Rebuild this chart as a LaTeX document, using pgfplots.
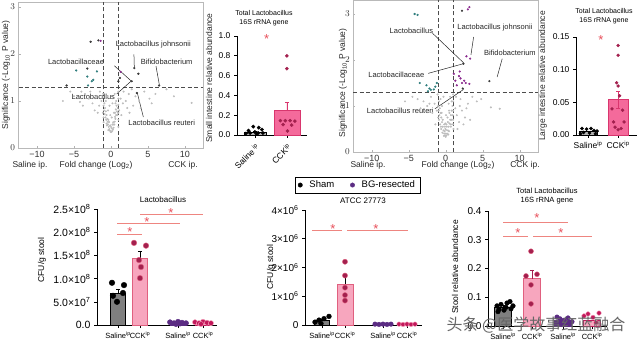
\documentclass[border=0pt]{standalone}
\usepackage{fontspec}
\setmainfont{Liberation Sans}
\newfontfamily\cjk{Noto Sans CJK SC}
\usepackage{pgfplots}
\pgfplotsset{compat=1.18}
\definecolor{vgray}{HTML}{BDBDBD}
\definecolor{vdark}{HTML}{3A3A3A}
\definecolor{vteal}{HTML}{2E7D7D}
\definecolor{vpurp}{HTML}{8A2A8E}
\definecolor{hotpink}{HTML}{F46A9B}
\definecolor{hotpinkD}{HTML}{D9366E}
\definecolor{lpink}{HTML}{F7A6BE}
\definecolor{lpinkD}{HTML}{E0607F}
\definecolor{dmag}{HTML}{A3204E}
\definecolor{dpurp}{HTML}{5B2C83}
\definecolor{mag}{HTML}{C2185B}
\definecolor{sigred}{HTML}{E8505B}
\definecolor{sigline}{HTML}{EE8580}
\definecolor{shamgray}{HTML}{7F7F7F}
\pgfplotsset{
  volc/.style={scale only axis, anchor=south west, xmin=-12.5, xmax=12.5, ymin=0,
    axis line style={gray!55, line width=0.4pt}, xtick={-10,-5,0,5,10},
    xticklabels={−10,−5,0,5,10}, ytick={0,1,2,3}, tick style={gray!60},
    major tick length=2pt, tick align=inside, xtick pos=bottom, ytick pos=left,
    ticklabel style={font=\fontsize{9}{10}\selectfont, text=black!80}, clip=false},
  barax/.style={scale only axis, anchor=south west, axis lines*=left,
    axis line style={black, line width=0.6pt}, tick align=outside, major tick length=3pt,
    tick style={black, line width=0.6pt}, clip=false},
}
\tikzset{sig/.style={sigline, line width=0.8pt},
  star/.style={text=sigred, font=\fontsize{13}{13}\selectfont, inner sep=0pt, yshift=-3pt},
  dashref/.style={black!70, dash pattern=on 4pt off 2.5pt, line width=0.6pt},
  ann/.style={font=\fontsize{7.5}{8}\selectfont, text=black!85},
  annl/.style={black!85, line width=0.5pt}}
\begin{document}
\begin{tikzpicture}[x=1pt,y=1pt]
\useasboundingbox (0,0) rectangle (640,343);
% ---------------- Volcano 1 ----------------
\begin{axis}[volc, at={(18.5pt,195pt)}, width=185pt, height=145.7pt, ymax=3.1]
\draw[dashref] (axis cs:-1,0) -- (axis cs:-1,3.1);
\draw[dashref] (axis cs:1,0) -- (axis cs:1,3.1);
\draw[dashref] (axis cs:-12.5,1.3) -- (axis cs:12.5,1.3);
\addplot[only marks, mark=*, mark size=0.8pt, color=vgray] coordinates {
(-0.9,0.95)(-0.8,0.85)(-0.7,0.78)(-0.6,0.7)(-0.5,0.62)(-0.45,0.56)(-0.4,0.5)(-0.3,0.45)
(-0.25,0.4)(-0.15,0.37)(-0.05,0.34)(0.05,0.34)(0.15,0.36)(0.25,0.39)(0.35,0.43)(0.45,0.5)
(0.5,0.56)(0.6,0.62)(0.7,0.7)(0.8,0.78)(0.9,0.85)(1.0,0.92)(-0.6,0.52)(-0.35,0.6)(0.3,0.55)
(0.55,0.75)(-0.75,0.65)(0.85,0.7)(-1.1,0.75)(1.1,0.8)(-1.3,1.0)(1.3,1.05)(-1.6,0.9)(1.6,0.95)
(-2.0,1.1)(2.0,1.0)(-2.5,0.95)(2.4,1.15)(-3.0,1.05)(3.0,0.9)(-3.5,1.15)(3.8,1.0)(-4.2,0.98)
(4.5,1.2)(-5.0,1.1)(5.2,1.05)(-6.5,1.0)(7.5,1.25)(-1.5,1.2)(1.7,1.2)(-0.5,1.1)(0.5,1.15)
(-0.2,0.9)(0.2,0.95)(-1.0,0.55)(1.0,0.6)(10.9,0.96)(-2.2,0.8)(2.5,0.75)(-0.1,0.7)(0.1,0.65)
(6.0,1.15)(-4.0,1.2)(2.8,1.25)(1.0,1.05)(1.0,0.45)(-1.0,1.15)(0.7,1.0)
(-0.65,0.6)(-0.55,0.48)(-0.35,0.38)(0.35,0.5)(0.55,0.66)(0.65,0.82)(-0.85,0.72)(0.75,0.9)
(-0.95,0.8)(0.95,0.75)(-0.4,0.8)(0.4,0.75)(-0.7,1.0)(0.6,0.95)(-0.25,0.55)(0.2,0.5)
(1.0,0.75)(1.0,1.2)(-1.0,0.9)(-1.0,0.65)(1.4,0.7)(-1.8,0.75)(2.2,0.85)(3.3,1.1)(-2.8,1.2)
(4.0,0.85)(-3.8,0.9)(5.5,0.95)(-5.5,1.2)(8.5,1.1)(0.0,0.45)(0.1,0.42)(-0.1,0.48)};
\addplot[only marks, mark=*, mark size=0.9pt, color=vteal] coordinates {
(-4.7,1.65)(-3.2,1.52)(-2.4,1.45)(-2.6,1.42)(-3.1,1.33)(-1.9,1.63)};
\addplot[only marks, mark=*, mark size=0.9pt, color=vdark] coordinates {
(-2.75,2.26)(-1.7,2.29)(-3.2,1.69)(-6.0,1.33)(1.2,1.49)(1.0,1.42)(2.8,1.42)(3.15,1.70)
(3.7,1.58)(6.5,1.33)(3.5,1.17)};
\addplot[only marks, mark=*, mark size=0.9pt, color=vpurp] coordinates {(1.3,1.62)(-1.4,2.28)};
\node[ann] at (axis cs:5.72,2.21) {Lactobacillus johnsonii};
\node[ann] at (axis cs:7.52,1.83) {Bifidobacterium};
\node[ann] at (axis cs:-4.73,1.83) {Lactobacillaceae};
\node[ann] at (axis cs:-2.39,1.085) {Lactobacillus};
\node[ann] at (axis cs:6.85,0.53) {Lactobacillus reuteri};
\draw[annl] (axis cs:3.1,1.99) -- (axis cs:3.15,1.72);
\draw[annl] (axis cs:6.08,1.74) -- (axis cs:6.53,1.35);
\draw[annl] (axis cs:0.45,1.75) -- (axis cs:2.7,1.43);
\draw[annl] (axis cs:0.77,1.15) -- (axis cs:2.7,1.42);
\draw[annl] (axis cs:4.37,0.66) -- (axis cs:3.56,1.17);
\end{axis}
\node[font=\fontsize{8.5}{9}\selectfont, rotate=90, text=black!85] at (6,268) {Significance (-Log\textsubscript{10} P value)};
\node[font=\fontsize{8.5}{9}\selectfont, text=black!85] at (30,178) {Saline ip.};
\node[font=\fontsize{8.5}{9}\selectfont, text=black!85] at (96,178) {Fold change (Log\textsubscript{2})};
\node[font=\fontsize{8.5}{9}\selectfont, text=black!85] at (183,178) {CCK ip.};
% ---------------- Panel 2 ----------------
\begin{axis}[barax, at={(237pt,208pt)}, width=70pt, height=99pt, xmin=-0.56, xmax=1.63,
  ymin=0, ymax=1.0, ytick={0,0.2,0.4,0.6,0.8,1.0}, yticklabels={0.0,0.2,0.4,0.6,0.8,1.0},
  xtick={0,1}, xticklabels={Saline\textsuperscript{ ip},CCK\textsuperscript{ip}},
  xticklabel style={rotate=45, anchor=north east, font=\fontsize{8.5}{9}\selectfont},
  yticklabel style={font=\fontsize{8.5}{9}\selectfont}]
\addplot[ybar, bar width=22pt, fill=gray!60, draw=black, line width=0.5pt,
  error bars/.cd, y dir=plus, y explicit, error bar style={black}] coordinates {(0,0.03) +- (0,0.01)};
\addplot[ybar, bar width=26pt, fill=hotpink, draw=hotpinkD, line width=0.5pt,
  error bars/.cd, y dir=plus, y explicit, error bar style={hotpinkD, line width=0.7pt}] coordinates {(1,0.25) +- (0,0.085)};
\addplot[only marks, mark=*, mark size=1.7pt, black] coordinates {
(-0.05,0.085)(0.12,0.075)(0.22,0.055)(-0.2,0.045)(0.0,0.03)(-0.15,0.02)(0.1,0.02)(0.25,0.02)(-0.28,0.015)(0.05,0.01)};
\addplot[only marks, mark=*, mark size=1.6pt, dmag] coordinates {
(1.0,0.80)(1.0,0.67)(0.8,0.145)(0.95,0.145)(1.1,0.145)(1.25,0.14)(0.88,0.105)(1.15,0.1)(1.02,0.04)};
\node[star] at (axis cs:0.37,1.0) {*};
\end{axis}
\node[font=\fontsize{7}{8.5}\selectfont, align=center] at (264,325) {Total Lactobacillus\\16S rRNA gene};
\node[font=\fontsize{8.5}{9}\selectfont, rotate=90, text=black!85] at (209,265) {Small intestine relative abundance};
% ---------------- Volcano 2 ----------------
\begin{axis}[volc, at={(353.2pt,191pt)}, width=185pt, height=151.8pt, ymax=3.3]
\draw[dashref] (axis cs:-1,0) -- (axis cs:-1,3.3);
\draw[dashref] (axis cs:1,0) -- (axis cs:1,3.3);
\draw[dashref] (axis cs:-12.5,1.3) -- (axis cs:12.5,1.3);
\addplot[only marks, mark=*, mark size=0.8pt, color=vgray] coordinates {
(-0.9,1.1)(-0.8,0.95)(-0.7,0.85)(-0.6,0.75)(-0.5,0.65)(-0.4,0.55)(-0.3,0.47)(-0.2,0.4)
(-0.1,0.36)(0.0,0.33)(0.1,0.36)(0.2,0.4)(0.3,0.47)(0.4,0.55)(0.5,0.62)(0.6,0.7)(0.7,0.8)
(0.8,0.9)(0.9,1.0)(-0.6,0.5)(-0.4,0.7)(0.3,0.65)(0.5,0.85)(-0.2,0.6)(0.15,0.55)(-0.75,0.6)
(0.7,0.55)(1.0,0.7)(1.0,0.9)(1.0,1.1)(1.05,0.5)(1.5,0.8)(1.8,0.65)(2.2,0.9)(2.6,0.75)
(3.0,1.05)(2.0,1.15)(1.4,1.2)(-1.2,0.9)(-1.5,1.05)(-1.1,1.25)(-2.0,1.2)(-2.5,1.0)(-3.0,1.1)
(-3.8,1.15)(-4.5,1.2)(3.6,1.2)(4.2,1.1)(6.1,0.97)(7.3,0.94)(-0.5,1.0)(0.4,1.05)(-0.3,1.2)
(0.6,1.2)(-0.9,0.7)(0.85,0.6)(-1.4,0.6)(1.6,0.5)(-0.05,0.5)(0.05,0.8)(-0.15,0.45)(0.25,0.75)
(-0.65,0.55)(-0.45,0.42)(-0.25,0.35)(0.35,0.38)(0.45,0.45)(0.65,0.6)(-0.85,0.8)(0.75,0.7)
(-0.95,0.9)(0.95,0.8)(-0.55,0.85)(0.45,0.9)(-0.7,1.15)(0.8,1.1)(-0.1,0.55)(0.1,0.6)
(1.0,0.6)(1.0,1.25)(-1.0,1.0)(-1.0,0.75)(1.3,0.95)(2.4,0.6)(1.9,1.0)(2.8,0.95)(3.3,0.7)
(-1.8,0.85)(-2.2,1.05)(-3.4,0.95)(4.8,1.15)(-5.5,1.1)(0.0,0.4)(0.05,0.48)(-0.05,0.62)};
\addplot[only marks, mark=*, mark size=0.9pt, color=vteal] coordinates {
(-4.2,3.0)(-3.8,2.98)(-3.5,1.5)(-2.6,1.45)(-2.2,1.38)(-2.0,1.35)(-1.4,1.42)(-2.4,1.32)(-1.2,1.5)(-1.6,1.36)};
\addplot[only marks, mark=*, mark size=0.9pt, color=vpurp] coordinates {
(3.0,3.1)(3.2,3.15)(2.8,2.08)(3.3,2.03)(1.9,1.75)(1.8,1.65)(1.3,1.55)(2.2,1.5)(2.7,1.5)
(3.2,1.48)(1.5,1.45)(2.0,1.6)(1.1,1.7)(2.5,1.55)};
\addplot[only marks, mark=*, mark size=0.9pt, color=vdark] coordinates {
(2.2,3.07)(2.4,1.92)(5.9,1.54)(2.3,1.38)};
\node[ann] at (axis cs:-4.64,2.63) {Lactobacillus};
\node[ann, anchor=west] at (axis cs:1.1,2.71) {Lactobacillus johnsonii};
\node[ann, anchor=west] at (axis cs:4.7,2.16) {Bifidobacterium};
\node[ann] at (axis cs:-6.68,1.67) {Lactobacillaceae};
\node[ann] at (axis cs:-6.14,0.89) {Lactobacillus reuteri};
\draw[annl] (axis cs:-1.77,2.58) -- (axis cs:2.41,1.94);
\draw[annl] (axis cs:3.77,2.5) -- (axis cs:3.41,2.11);
\draw[annl] (axis cs:7.64,2.03) -- (axis cs:6.95,1.63);
\draw[annl] (axis cs:-2.36,1.71) -- (axis cs:2.41,1.92);
\draw[annl] (axis cs:-1.45,0.94) -- (axis cs:2.41,1.36);
\end{axis}
\node[font=\fontsize{8.5}{9}\selectfont, rotate=90, text=black!85] at (343,260) {Significance (-Log\textsubscript{10} P value)};
\node[font=\fontsize{8.5}{9}\selectfont, text=black!85] at (368,178) {Saline ip.};
\node[font=\fontsize{8.5}{9}\selectfont, text=black!85] at (458,178) {Fold change (Log\textsubscript{2})};
\node[font=\fontsize{8.5}{9}\selectfont, text=black!85] at (525,178) {CCK ip.};
% ---------------- Panel 4 ----------------
\begin{axis}[barax, at={(576pt,208pt)}, width=61pt, height=98pt, xmin=-0.4, xmax=1.63,
  ymin=0, ymax=0.15, ytick={0,0.05,0.10,0.15}, yticklabels={0.00,0.05,0.10,0.15},
  xtick={0,1}, xticklabels={Saline\textsuperscript{ip},CCK\textsuperscript{ip}},
  xticklabel style={font=\fontsize{8.5}{9}\selectfont},
  yticklabel style={font=\fontsize{8.5}{9}\selectfont}]
\addplot[ybar, bar width=18pt, fill=gray!60, draw=black, line width=0.5pt,
  error bars/.cd, y dir=plus, y explicit, error bar style={black}] coordinates {(0,0.005) +- (0,0.0015)};
\addplot[ybar, bar width=20pt, fill=hotpink, draw=hotpinkD, line width=0.5pt,
  error bars/.cd, y dir=both, y explicit, error bar style={hotpinkD, line width=0.7pt}] coordinates {(1,0.054) +- (0,0.013)};
\addplot[only marks, mark=*, mark size=1.6pt, black] coordinates {
(-0.2,0.01)(-0.05,0.009)(0.1,0.01)(0.2,0.007)(0.3,0.006)(-0.15,0.004)(0.05,0.003)(0.25,0.002)(-0.25,0.002)};
\addplot[only marks, mark=*, mark size=1.5pt, dmag] coordinates {
(1,0.137)(1,0.122)(0.95,0.08)(1,0.075)(1.05,0.06)(0.8,0.04)(1.15,0.038)(0.85,0.02)(1.2,0.02)(0.9,0.012)(1.1,0.01)(1.0,0.008)};
\node[star] at (axis cs:0.43,0.15) {*};
\end{axis}
\node[font=\fontsize{7}{8.5}\selectfont, align=center] at (604,327) {Total Lactobacillus\\16S rRNA gene};
\node[font=\fontsize{8.5}{9}\selectfont, rotate=90, text=black!85] at (543,267) {Large intestine relative abundance};
% ---------------- Panel 5 ----------------
\begin{axis}[barax, at={(97pt,18pt)}, width=120pt, height=116pt, xmin=0, xmax=120,
  ymin=0, ymax=2.5, ytick={0,0.5,1,1.5,2,2.5},
  yticklabels={0.0,5.0×10\textsuperscript{7},1.0×10\textsuperscript{8},1.5×10\textsuperscript{8},2.0×10\textsuperscript{8},2.5×10\textsuperscript{8}},
  xtick={21,43,81,106}, xticklabels={Saline\textsuperscript{ip},CCK\textsuperscript{ip},Saline\textsuperscript{ip},CCK\textsuperscript{ip}},
  xticklabel style={font=\fontsize{7.5}{8}\selectfont},
  yticklabel style={font=\fontsize{10.5}{11}\selectfont}]
\addplot[ybar, bar width=15pt, fill=shamgray, draw=black, line width=0.6pt,
  error bars/.cd, y dir=plus, y explicit, error bar style={black, line width=0.6pt}] coordinates {(21,0.69) +- (0,0.09)};
\addplot[ybar, bar width=15pt, fill=lpink, draw=lpinkD, line width=0.6pt,
  error bars/.cd, y dir=plus, y explicit, error bar style={black, line width=0.6pt}] coordinates {(43,1.44) +- (0,0.14)};
\addplot[ybar, bar width=15pt, fill=dpurp, draw=dpurp, line width=0.6pt] coordinates {(81,0.05)};
\addplot[ybar, bar width=15pt, fill=lpink, draw=mag, line width=0.6pt] coordinates {(106,0.05)};
\addplot[only marks, mark=*, mark size=2.8pt, black] coordinates {(15,0.91)(27,0.86)(26,0.69)(16,0.63)(20,0.5)};
\addplot[only marks, mark=*, mark size=2.8pt, fill=dmag, draw=lpinkD] coordinates {(37,1.77)(49,1.71)(42,1.40)(44,1.25)(43,1.01)};
\addplot[only marks, mark=*, mark size=2.6pt, fill=dpurp, draw=dpurp] coordinates {(73,0.06)(77,0.04)(81,0.07)(85,0.05)(89,0.04)(79,0.02)(83,0.03)};
\addplot[only marks, mark=*, mark size=2.6pt, fill=mag, draw=lpink] coordinates {(98,0.06)(102,0.04)(106,0.07)(110,0.05)(114,0.04)(104,0.02)};
\draw[sig] (axis cs:20,1.96) -- (axis cs:45,1.96);
\draw[sig] (axis cs:20,2.18) -- (axis cs:83,2.18);
\draw[sig] (axis cs:43,2.39) -- (axis cs:106,2.39);
\node[star] at (axis cs:33,2.06) {*};
\node[star] at (axis cs:50,2.28) {*};
\node[star] at (axis cs:74,2.48) {*};
\end{axis}
\node[font=\fontsize{8}{9}\selectfont] at (163,143) {Lactobacillus};
\node[font=\fontsize{8.5}{9}\selectfont, rotate=90] at (42,83) {CFU/g stool};
% ---------------- Panel 6 ----------------
\begin{axis}[barax, at={(305pt,18pt)}, width=117pt, height=115pt, xmin=0, xmax=117,
  ymin=0, ymax=4, ytick={0,1,2,3,4},
  yticklabels={0,1×10\textsuperscript{6},2×10\textsuperscript{6},3×10\textsuperscript{6},4×10\textsuperscript{6}},
  xtick={17,40,78,102}, xticklabels={Saline\textsuperscript{ip},CCK\textsuperscript{ip},Saline\textsuperscript{ip},CCK\textsuperscript{ip}},
  xticklabel style={font=\fontsize{7.5}{8}\selectfont},
  yticklabel style={font=\fontsize{10}{11}\selectfont},
  legend style={at={(axis description cs:0.449,1.217)}, anchor=center, legend columns=2,
    draw=black, font=\fontsize{9.5}{10}\selectfont, inner xsep=3pt, inner ysep=1.5pt}]
\addlegendimage{only marks, mark=*, mark size=2.2pt, black}
\addlegendentry{\kern5pt Sham\kern14pt}
\addlegendimage{only marks, mark=*, mark size=2.2pt, dpurp}
\addlegendentry{\kern5pt BG-resected}
\addplot[ybar, bar width=15pt, fill=shamgray, draw=black, line width=0.6pt,
  error bars/.cd, y dir=plus, y explicit, error bar style={black, line width=0.6pt}] coordinates {(17,0.15) +- (0,0.05)};
\addplot[ybar, bar width=16pt, fill=lpink, draw=lpinkD, line width=0.6pt,
  error bars/.cd, y dir=plus, y explicit, error bar style={black, line width=0.6pt}] coordinates {(40,1.43) +- (0,0.3)};
\addplot[ybar, bar width=15pt, fill=dpurp, draw=dpurp, line width=0.6pt] coordinates {(78,0.02)};
\addplot[ybar, bar width=15pt, fill=lpink, draw=mag, line width=0.6pt] coordinates {(102,0.02)};
\addplot[only marks, mark=*, mark size=2.4pt, black] coordinates {(10,0.1)(14,0.17)(19,0.22)(24,0.3)(16,0.05)};
\addplot[only marks, mark=*, mark size=2.6pt, fill=dmag, draw=lpinkD] coordinates {(40,2.2)(40,1.72)(40,1.3)(40,1.04)(40,0.85)};
\addplot[only marks, mark=*, mark size=2.3pt, fill=dpurp, draw=dpurp] coordinates {(70,0.03)(74,0.02)(78,0.03)(82,0.02)(86,0.03)};
\addplot[only marks, mark=*, mark size=2.3pt, fill=mag, draw=lpink] coordinates {(94,0.03)(98,0.02)(102,0.03)(106,0.02)(110,0.03)};
\draw[sig] (axis cs:7,3.3) -- (axis cs:37,3.3);
\draw[sig] (axis cs:42,3.3) -- (axis cs:103,3.3);
\node[star] at (axis cs:28,3.45) {*};
\node[star] at (axis cs:71,3.45) {*};
\end{axis}
\node[font=\fontsize{8}{9}\selectfont] at (363,142) {ATCC 27773};
\node[font=\fontsize{8.5}{9}\selectfont, rotate=90] at (271,76) {CFU/g stool};
% ---------------- Panel 7 ----------------
\begin{axis}[barax, at={(488pt,17pt)}, width=119pt, height=115pt, xmin=0, xmax=119,
  ymin=0, ymax=0.4, ytick={0,0.1,0.2,0.3,0.4}, yticklabels={0.0,0.1,0.2,0.3,0.4},
  xtick={15,44,75,104}, xticklabels={Saline\textsuperscript{ip},CCK\textsuperscript{ip},Saline\textsuperscript{ip},CCK\textsuperscript{ip}},
  xticklabel style={font=\fontsize{7.5}{8}\selectfont},
  yticklabel style={font=\fontsize{10}{11}\selectfont}]
\addplot[ybar, bar width=17pt, fill=shamgray, draw=black, line width=0.6pt,
  error bars/.cd, y dir=plus, y explicit, error bar style={black, line width=0.6pt}] coordinates {(15,0.065) +- (0,0.006)};
\addplot[ybar, bar width=17pt, fill=lpink, draw=lpinkD, line width=0.6pt,
  error bars/.cd, y dir=plus, y explicit, error bar style={dmag, line width=0.6pt}] coordinates {(44,0.165) +- (0,0.03)};
\addplot[ybar, bar width=17pt, fill=dpurp, draw=dpurp, line width=0.6pt] coordinates {(75,0.02)};
\addplot[ybar, bar width=17pt, fill=lpink, draw=mag, line width=0.6pt] coordinates {(104,0.02)};
\addplot[only marks, mark=*, mark size=2.3pt, black] coordinates {(9,0.07)(11,0.058)(13,0.075)(16,0.055)(19,0.08)(22,0.085)(25,0.07)(10,0.05)(18,0.065)(23,0.06)};
\addplot[only marks, mark=*, mark size=2.5pt, fill=dmag, draw=lpinkD] coordinates {(43,0.26)(38,0.174)(49,0.18)(43,0.143)(43,0.077)};
\addplot[only marks, mark=*, mark size=2.3pt, fill=dpurp, draw=dpurp] coordinates {(69,0.031)(72,0.025)(76,0.02)(80,0.028)(84,0.015)};
\addplot[only marks, mark=*, mark size=2.3pt, fill=mag, draw=lpink] coordinates {(100,0.042)(111,0.045)(105,0.03)(96,0.035)(108,0.012)};
\draw[sig] (axis cs:15,0.362) -- (axis cs:80,0.362);
\draw[sig] (axis cs:15,0.313) -- (axis cs:40,0.313);
\draw[sig] (axis cs:45,0.313) -- (axis cs:104,0.313);
\node[star] at (axis cs:49,0.385) {*};
\node[star] at (axis cs:30,0.335) {*};
\node[star] at (axis cs:73,0.335) {*};
\end{axis}
\node[font=\fontsize{7.5}{9}\selectfont, align=center] at (547,147) {Total Lactobacillus\\16S rRNA gene};
\node[font=\fontsize{8.5}{9}\selectfont, rotate=90] at (455,76) {Stool relative abundance};
% watermark
\node[font=\cjk\fontsize{16}{16}\selectfont, text=black!60] at (536,18) {头条 @医学故事红蓝融合};
\end{tikzpicture}
\end{document}
